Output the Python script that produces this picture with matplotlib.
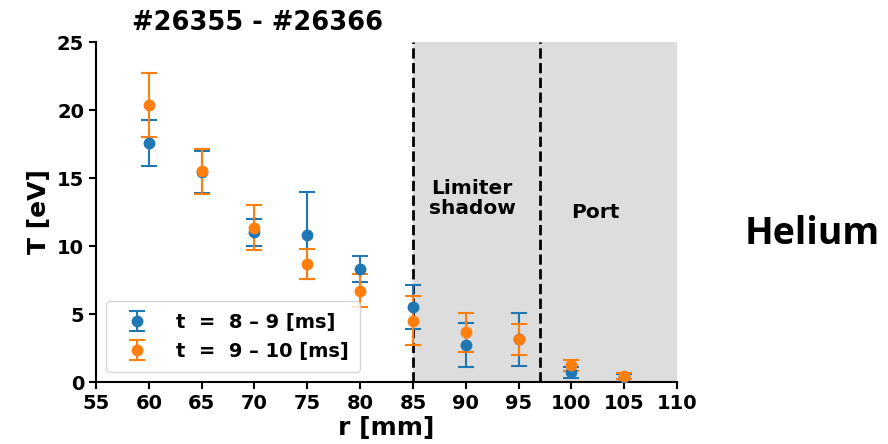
import matplotlib
matplotlib.use("Agg")
import matplotlib.pyplot as plt

r = [60, 65, 70, 75, 80, 85, 90, 95, 100, 105]
T1 = [17.55, 15.45, 11.0, 10.8, 8.3, 5.5, 2.75, 3.15, 0.76, 0.39]
T1_lo = [15.9, 13.9, 10.0, 7.6, 7.35, 3.9, 1.1, 1.15, 0.32, 0.2]
T1_hi = [19.25, 17.0, 12.0, 14.0, 9.25, 7.1, 4.35, 5.05, 1.08, 0.6]
T2 = [20.35, 15.5, 11.35, 8.7, 6.7, 4.5, 3.65, 3.15, 1.25, 0.44]
T2_lo = [18.0, 13.85, 9.7, 7.6, 5.5, 2.75, 2.2, 2.0, 0.83, 0.22]
T2_hi = [22.7, 17.1, 13.0, 9.75, 7.95, 6.3, 5.05, 4.25, 1.65, 0.64]

lab1 = "t  =  8 – 9 [ms]"
lab2 = "t  =  9 – 10 [ms]"

fig = plt.figure(figsize=(8.88, 4.44), dpi=100)
ax = fig.add_axes([96/888, 1-382/444, (677-96)/888, (382-42)/444])

ax.axvspan(85, 110, color="#dddddd", zorder=0, lw=0)
ax.axvline(85, color="k", ls="--", lw=2, zorder=1)
ax.axvline(97, color="k", ls="--", lw=2, zorder=1)

e1 = [[a - b for a, b in zip(T1, T1_lo)], [b - a for a, b in zip(T1, T1_hi)]]
e2 = [[a - b for a, b in zip(T2, T2_lo)], [b - a for a, b in zip(T2, T2_hi)]]
ax.errorbar(r, T1, yerr=e1, fmt="o", color="#1f77b4", ms=7.5, capsize=6, elinewidth=1.5, capthick=1.5, label=lab1, zorder=3)
ax.errorbar(r, T2, yerr=e2, fmt="o", color="#ff7f0e", ms=7.5, capsize=6, elinewidth=1.5, capthick=1.5, label=lab2, zorder=3)

ax.set_xlim(55, 110)
ax.set_ylim(0, 25)
ax.set_xticks(range(55, 111, 5))
ax.set_yticks([0, 5, 10, 15, 20, 25])
for s in ["top", "right"]:
    ax.spines[s].set_visible(False)
for s in ["left", "bottom"]:
    ax.spines[s].set_linewidth(1.5)
ax.tick_params(labelsize=14, width=1.5, length=5)
for t in ax.get_xticklabels() + ax.get_yticklabels():
    t.set_fontweight("bold")
ax.set_xlabel("r [mm]", fontsize=18, fontweight="bold", labelpad=2)
ax.set_ylabel("T [eV]", fontsize=18, fontweight="bold")

ax.text(90.6, 13.5, "Limiter\nshadow", ha="center", va="center", fontsize=14.5, fontweight="bold", linespacing=1.1)
ax.text(102.3, 12.5, "Port", ha="center", va="center", fontsize=14.5, fontweight="bold")

leg = ax.legend(loc="lower left", prop={"weight": "bold", "size": 14}, borderpad=0.6, handletextpad=1.0)

fig.text(258/888, 1-23/444, "#26355 - #26366", ha="center", va="center", fontsize=18.5, fontweight="bold")
fig.text(812/888, 1-234/444, "Helium", ha="center", va="center", fontsize=27, fontweight="bold", family="Open Sans")

fig.savefig("out.png", dpi=100)
